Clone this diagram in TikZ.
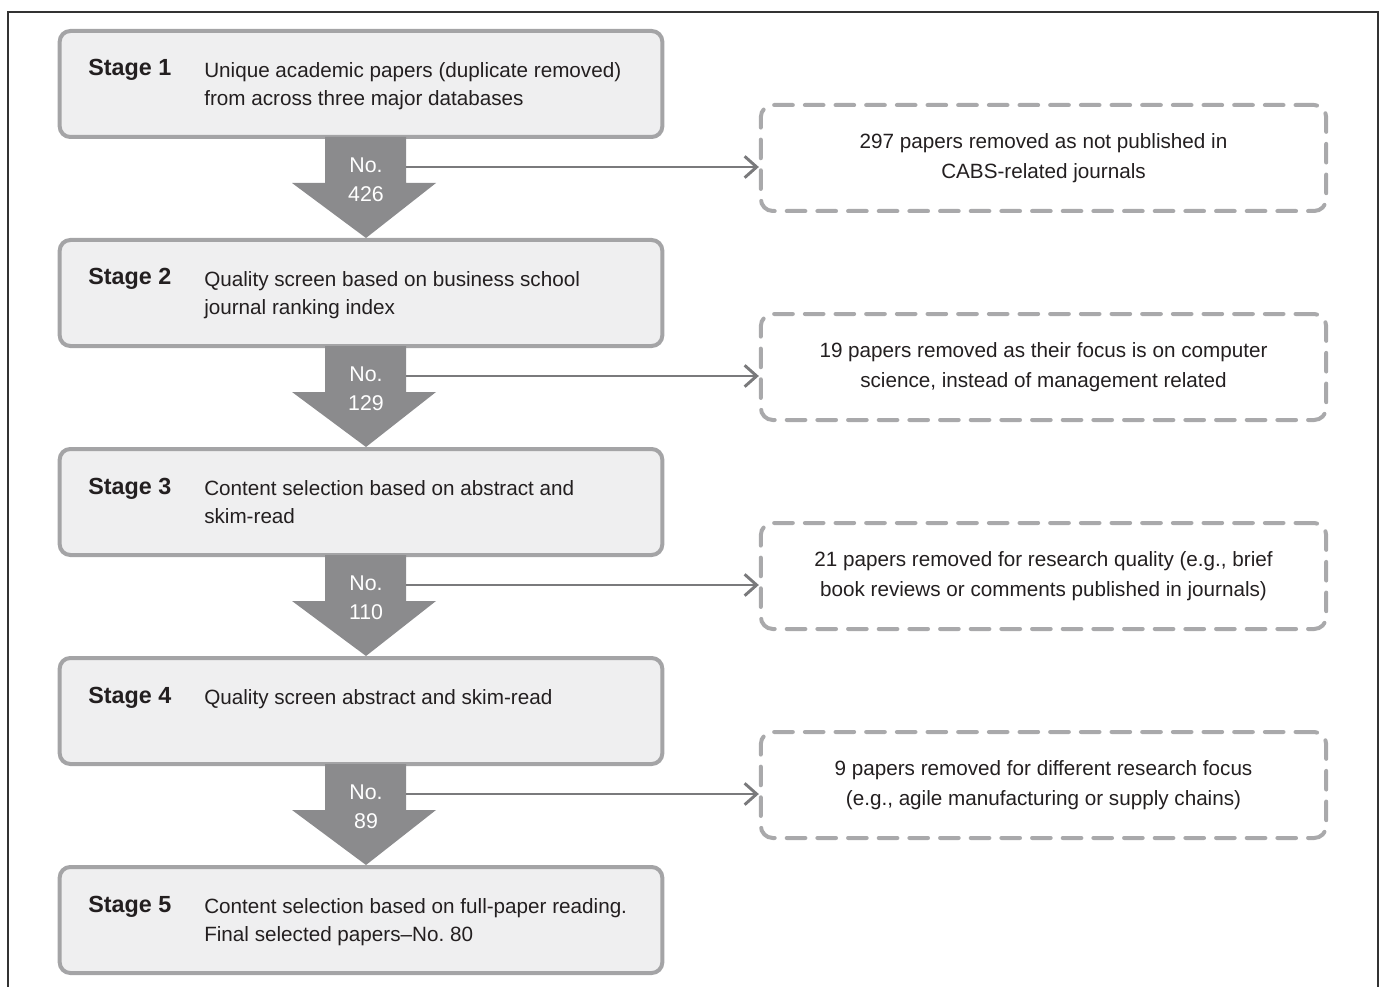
\documentclass[tikz,border=0pt]{standalone}
\usepackage{fontspec}
\setmainfont{Liberation Sans}
\usetikzlibrary{arrows.meta}
\definecolor{boxfill}{HTML}{EFEFF0}
\definecolor{boxdraw}{HTML}{A4A4A6}
\definecolor{arrfill}{HTML}{8B8B8D}
\definecolor{conn}{HTML}{7A7A7C}
\definecolor{dashc}{HTML}{A9A9AB}
\definecolor{txt}{HTML}{231F20}
\begin{document}
\begin{tikzpicture}[x=0.75pt,y=-0.75pt,
  stagebox/.style={draw=boxdraw, fill=boxfill, line width=3pt, rounded corners=8pt,
    minimum width=452pt, minimum height=79.5pt, inner sep=0pt},
  dashbox/.style={draw=dashc, line width=3pt, line cap=round, rounded corners=9pt,
    dash pattern=on 14pt off 9pt, minimum width=424pt, minimum height=79.5pt,
    align=center, font=\fontsize{15.5pt}{22pt}\selectfont, text=txt, inner sep=0pt},
  stagelabel/.style={anchor=base west, font=\fontsize{17.5pt}{21pt}\selectfont\bfseries, text=txt, inner sep=0pt},
  stagetext/.style={anchor=north west, align=left, font=\fontsize{15.5pt}{21.5pt}\selectfont, text=txt, inner sep=0pt},
  numtext/.style={align=center, font=\fontsize{16pt}{21.5pt}\selectfont, text=white, inner sep=0pt},
  conn/.style={draw=conn, line width=2.2pt, -{Straight Barb[length=9pt,width=16pt,line width=2.2pt]}}
]
\useasboundingbox (0,0) rectangle (1383,987);
\draw[line width=1.2pt, color=black!80] (8,987) -- (8,12) -- (1378,12) -- (1378,987);

% stage boxes
\foreach \i/\y in {1/84,2/293,3/502,4/711,5/920}{
  \node[stagebox] (s\i) at (361,\y) {};
}
% down arrows
\foreach \i/\y in {1/137,2/346,3/555,4/764}{
  \fill[arrfill] (325,\y) -- (406,\y) -- (406,\y+46) -- (436,\y+46) -- (366,\y+101) -- (292,\y+46) -- (325,\y+46) -- cycle;
}
\node[stagelabel] (l1) at (88,76) {Stage 1};
\node[stagelabel] (l2) at (88,285) {Stage 2};
\node[stagelabel] (l3) at (88,494) {Stage 3};
\node[stagelabel] (l4) at (88,703) {Stage 4};
\node[stagelabel] (l5) at (88,912) {Stage 5};

\node[stagetext] (t1) at (204,62) {Unique academic papers (duplicate removed)\\from across three major databases};
\node[stagetext] (t2) at (204,271) {Quality screen based on business school\\journal ranking index};
\node[stagetext] (t3) at (204,480) {Content selection based on abstract and\\skim-read};
\node[stagetext] (t4) at (204,689) {Quality screen abstract and skim-read};
\node[stagetext] (t5) at (204,898) {Content selection based on full-paper reading.\\Final selected papers\textendash No.\ 80};

\node[numtext] (n1) at (366,180) {No.\\426};
\node[numtext] (n2) at (366,389) {No.\\129};
\node[numtext] (n3) at (366,598) {No.\\110};
\node[numtext] (n4) at (366,807) {No.\\89};

% removed boxes
\node[dashbox] (r1) at (1043.5,158) {297 papers removed as not published in\\CABS-related journals};
\node[dashbox] (r2) at (1043.5,367) {19 papers removed as their focus is on computer\\science, instead of management related};
\node[dashbox] (r3) at (1043.5,576) {21 papers removed for research quality (e.g., brief\\book reviews or comments published in journals)};
\node[dashbox] (r4) at (1043.5,785) {9 papers removed for different research focus\\(e.g., agile manufacturing or supply chains)};

\foreach \i/\y in {1/167,2/376,3/585,4/794}{
  \coordinate (c\i) at (406,\y);
  \draw[conn] (c\i) -- (r\i.west |- c\i);
}
\end{tikzpicture}
\end{document}
